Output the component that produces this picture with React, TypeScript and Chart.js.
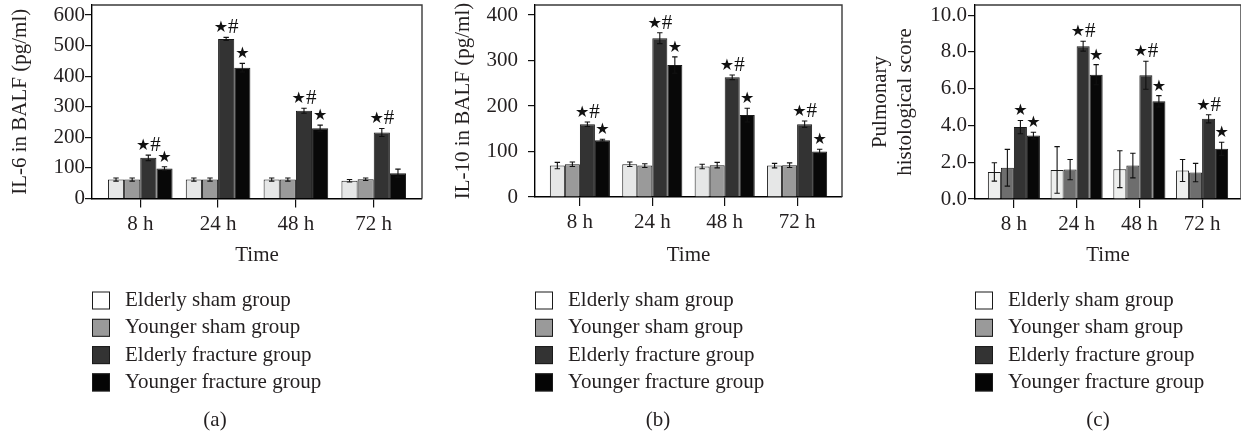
import React, { useEffect, useRef } from "react";
import { Chart, registerables } from "chart.js";
Chart.register(...registerables);

// ---------------- data ----------------
const timeLabels = ["8 h", "24 h", "48 h", "72 h"];
const groupLabels = [
  "Elderly sham group",
  "Younger sham group",
  "Elderly fracture group",
  "Younger fracture group",
];

// (a) IL-6 in BALF (pg/ml)
const il6ElderlySham = [62, 62, 62, 58];
const il6YoungerSham = [62, 62, 62, 63];
const il6ElderlyFracture = [133, 522, 287, 216];
const il6YoungerFracture = [98, 428, 230, 83];
const il6ElderlyShamErr = [5, 5, 5, 4];
const il6YoungerShamErr = [5, 5, 5, 4];
const il6ElderlyFractureErr = [9, 5, 8, 13];
const il6YoungerFractureErr = [6, 14, 10, 13];
const il6MarksElderlyFracture = ["★#", "★#", "★#", "★#"];
const il6MarksYoungerFracture = ["★", "★", "★", ""];

// (b) IL-10 in BALF (pg/ml)
const il10ElderlySham = [69, 72, 67, 69];
const il10YoungerSham = [72, 69, 70, 70];
const il10ElderlyFracture = [160, 349, 263, 160];
const il10YoungerFracture = [125, 290, 180, 100];
const il10ElderlyShamErr = [7, 5, 5, 5];
const il10YoungerShamErr = [5, 4, 6, 5];
const il10ElderlyFractureErr = [5, 12, 5, 7];
const il10YoungerFractureErr = [2, 18, 15, 5];
const il10MarksElderlyFracture = ["★#", "★#", "★#", "★#"];
const il10MarksYoungerFracture = ["★", "★", "★", "★"];

// (c) Pulmonary histological score
const scoreElderlySham = [1.47, 1.58, 1.62, 1.55];
const scoreYoungerSham = [1.7, 1.6, 1.82, 1.44];
const scoreElderlyFracture = [3.91, 8.31, 6.73, 4.36];
const scoreYoungerFracture = [3.45, 6.76, 5.31, 2.73];
const scoreElderlyShamErr = [0.5, 1.27, 1.0, 0.6];
const scoreYoungerShamErr = [1.0, 0.55, 0.67, 0.5];
const scoreElderlyFractureErr = [0.36, 0.27, 0.76, 0.22];
const scoreYoungerFractureErr = [0.18, 0.55, 0.31, 0.36];
const scoreMarksElderlyFracture = ["★", "★#", "★#", "★#"];
const scoreMarksYoungerFracture = ["★", "★", "★", "★"];

// ---------------- styles ----------------
const TEXT = "#231f20";
const SERIF = "'Liberation Serif', 'Times New Roman', serif";
const FONT = { family: SERIF, size: 21, lineHeight: 1.2 };
const colorsAB = ["#e6e7e7", "#9a9a9a", "#333333", "#080808"];
const colorsC = ["#eeefee", "#6e6e6e", "#333333", "#080808"];
const legendColors = ["#ffffff", "#9a9a9a", "#333333", "#050505"];

type Panel = {
  left: number;
  width: number;
  yWidth: number;
  padRight: number;
  axisY: number;
  yMax: number;
  step: number;
  decimals: number;
  yTitle: string | string[];
  titlePad: number;
  tickPad: number;
  caption: string;
  series: number[][];
  errors: number[][];
  marks: string[][]; // [elderlyFracture, youngerFracture]
  colors: string[];
};

const H = 436;
const PAD_TOP = 5;
const X_BOTTOM = 267.6;

const panels: Panel[] = [
  {
    left: 0, width: 440, yWidth: 92, padRight: 18, axisY: 198.5,
    yMax: 633, step: 100, decimals: 0,
    yTitle: "IL-6 in BALF (pg/ml)", titlePad: 7.4, tickPad: 0, caption: "(a)",
    series: [il6ElderlySham, il6YoungerSham, il6ElderlyFracture, il6YoungerFracture],
    errors: [il6ElderlyShamErr, il6YoungerShamErr, il6ElderlyFractureErr, il6YoungerFractureErr],
    marks: [il6MarksElderlyFracture, il6MarksYoungerFracture],
    colors: colorsAB,
  },
  {
    left: 440, width: 420, yWidth: 95, padRight: 18, axisY: 197,
    yMax: 422, step: 100, decimals: 0,
    yTitle: "IL-10 in BALF (pg/ml)", titlePad: 10.4, tickPad: 10, caption: "(b)",
    series: [il10ElderlySham, il10YoungerSham, il10ElderlyFracture, il10YoungerFracture],
    errors: [il10ElderlyShamErr, il10YoungerShamErr, il10ElderlyFractureErr, il10YoungerFractureErr],
    marks: [il10MarksElderlyFracture, il10MarksYoungerFracture],
    colors: colorsAB,
  },
  {
    left: 860, width: 381, yWidth: 115, padRight: 0, axisY: 199,
    yMax: 10.55, step: 2, decimals: 1,
    yTitle: ["Pulmonary", "histological score"], titlePad: 7.4, tickPad: 1, caption: "(c)",
    series: [scoreElderlySham, scoreYoungerSham, scoreElderlyFracture, scoreYoungerFracture],
    errors: [scoreElderlyShamErr, scoreYoungerShamErr, scoreElderlyFractureErr, scoreYoungerFractureErr],
    marks: [scoreMarksElderlyFracture, scoreMarksYoungerFracture],
    colors: colorsC,
  },
];

function makeChart(canvas: HTMLCanvasElement, p: Panel) {
  const xHeight = X_BOTTOM - p.axisY;
  const padBottom = H - X_BOTTOM;

  const datasets = p.series.map((vals, k) => ({
    label: groupLabels[k],
    data: vals.map((v, i) => ({ x: i, y: v })),
    backgroundColor: p.colors[k],
    borderColor: "#1a1a1a",
    borderWidth: 1,
    categoryPercentage: 0.83,
    barPercentage: 1,
  }));

  const framePlugin = {
    id: "frame",
    afterDraw(chart: any) {
      const { ctx, chartArea: a } = chart;
      ctx.save();
      ctx.strokeStyle = "#3a3a3a";
      ctx.lineWidth = 1.4;
      ctx.beginPath();
      ctx.moveTo(a.left, a.top);
      ctx.lineTo(a.right, a.top);
      ctx.lineTo(a.right, a.bottom);
      ctx.stroke();
      ctx.restore();
    },
  };

  const errorPlugin = {
    id: "errorBars",
    afterDatasetsDraw(chart: any) {
      const { ctx } = chart;
      const y = chart.scales.y;
      p.series.forEach((vals, d) => {
        const meta = chart.getDatasetMeta(d);
        meta.data.forEach((bar: any, i: number) => {
          const v = vals[i];
          const e = p.errors[d][i];
          const top = y.getPixelForValue(v + e);
          const bot = y.getPixelForValue(v - e);
          ctx.save();
          ctx.strokeStyle = "#111";
          ctx.lineWidth = 1.1;
          ctx.beginPath();
          ctx.moveTo(bar.x, top);
          ctx.lineTo(bar.x, bot);
          ctx.moveTo(bar.x - 2.7, top);
          ctx.lineTo(bar.x + 2.7, top);
          ctx.moveTo(bar.x - 2.7, bot);
          ctx.lineTo(bar.x + 2.7, bot);
          ctx.stroke();
          ctx.restore();
        });
      });
    },
  };

  const marksPlugin = {
    id: "marks",
    afterDatasetsDraw(chart: any) {
      const { ctx } = chart;
      const y = chart.scales.y;
      const starFont = "16px 'DejaVu Sans', sans-serif";
      const hashFont = `21px ${SERIF}`;
      [2, 3].forEach((d, mi) => {
        const meta = chart.getDatasetMeta(d);
        meta.data.forEach((bar: any, i: number) => {
          const txt = p.marks[mi][i];
          if (!txt) return;
          const base = y.getPixelForValue(p.series[d][i] + p.errors[d][i]) - 5;
          const chars = Array.from(txt);
          ctx.save();
          const widths = chars.map((c) => {
            ctx.font = c === "#" ? hashFont : starFont;
            return ctx.measureText(c).width;
          });
          const total = widths.reduce((s, w) => s + w, 0);
          let x = bar.x - total / 2;
          ctx.fillStyle = "#111";
          ctx.textAlign = "left";
          ctx.textBaseline = "alphabetic";
          chars.forEach((c, j) => {
            ctx.font = c === "#" ? hashFont : starFont;
            ctx.fillText(c, x, c === "#" ? base + 1 : base);
            x += widths[j];
          });
          ctx.restore();
        });
      });
    },
  };

  const legendPlugin = {
    id: "panelLegend",
    afterDraw(chart: any) {
      const { ctx, chartArea: a } = chart;
      ctx.save();
      groupLabels.forEach((label, k) => {
        const yc = 300.5 + k * 27.3;
        ctx.fillStyle = legendColors[k];
        ctx.fillRect(a.left, yc - 9, 18, 18);
        ctx.strokeStyle = "#1a1a1a";
        ctx.lineWidth = 1;
        ctx.strokeRect(a.left + 0.5, yc - 8.5, 17, 17);
        ctx.fillStyle = TEXT;
        ctx.font = `21px ${SERIF}`;
        ctx.textAlign = "left";
        ctx.textBaseline = "middle";
        ctx.fillText(label, a.left + 33, yc);
      });
      ctx.textAlign = "center";
      ctx.fillText(p.caption, a.left + 123, 420);
      ctx.restore();
    },
  };

  return new Chart(canvas, {
    type: "bar",
    data: { datasets } as any,
    options: {
      animation: false,
      responsive: false,
      events: [],
      layout: { padding: { left: 0, right: p.padRight, top: PAD_TOP, bottom: padBottom } },
      plugins: { legend: { display: false }, tooltip: { enabled: false } },
      scales: {
        x: {
          type: "linear",
          min: -0.62,
          max: 3.62,
          offset: false,
          afterBuildTicks: (s: any) => {
            s.ticks = timeLabels.map((_, i) => ({ value: i }));
          },
          afterFit: (s: any) => {
            s.height = xHeight;
            s.paddingLeft = 0;
            s.paddingRight = 0;
          },
          ticks: {
            callback: (v: any) => timeLabels[Math.round(Number(v))],
            font: FONT,
            color: TEXT,
            padding: 4,
            autoSkip: false,
            maxRotation: 0,
          },
          grid: {
            display: true,
            offset: false,
            drawOnChartArea: false,
            drawTicks: true,
            tickLength: 9,
            color: "#111",
            lineWidth: 1.2,
          },
          border: { display: true, color: "#000", width: 1.4 },
          title: { display: true, text: "Time", font: FONT, color: TEXT, padding: 0 },
        } as any,
        y: {
          type: "linear",
          min: 0,
          max: p.yMax,
          afterFit: (s: any) => {
            s.width = p.yWidth;
            s.paddingTop = 0;
            s.paddingBottom = 0;
          },
          ticks: {
            stepSize: p.step,
            includeBounds: false,
            callback: (v: any) => Number(v).toFixed(p.decimals),
            font: FONT,
            color: TEXT,
            padding: p.tickPad,
          },
          grid: {
            display: true,
            drawOnChartArea: false,
            drawTicks: true,
            tickLength: 7,
            color: "#111",
            lineWidth: 1.2,
          },
          border: { display: true, color: "#000", width: 1.4 },
          title: {
            display: true,
            text: p.yTitle,
            font: FONT,
            color: TEXT,
            padding: { top: p.titlePad, bottom: 0 },
          },
        } as any,
      },
    },
    plugins: [framePlugin, errorPlugin, marksPlugin, legendPlugin],
  } as any);
}

function PanelChart({ p }: { p: Panel }) {
  const ref = useRef<HTMLCanvasElement | null>(null);
  useEffect(() => {
    if (!ref.current) return;
    const chart = makeChart(ref.current, p);
    return () => chart.destroy();
  }, [p]);
  return (
    <canvas
      ref={ref}
      width={p.width}
      height={H}
      style={{ position: "absolute", left: p.left, top: 0, width: p.width, height: H }}
    />
  );
}

export default function App() {
  return (
    <div
      style={{
        position: "fixed",
        left: 0,
        top: 0,
        width: 1241,
        height: H,
        background: "#ffffff",
        overflow: "hidden",
      }}
    >
      {panels.map((p) => (
        <PanelChart key={p.caption} p={p} />
      ))}
    </div>
  );
}
